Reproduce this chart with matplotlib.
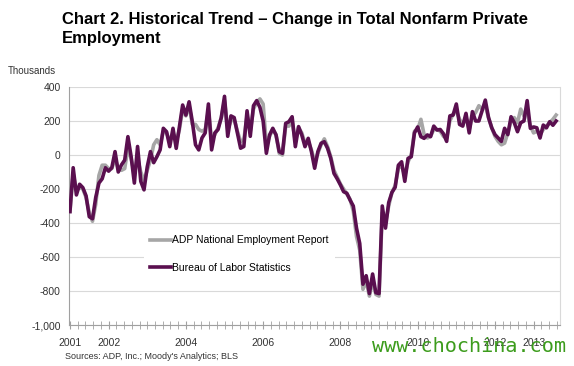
import numpy as np
import matplotlib
matplotlib.use('Agg')
import matplotlib.pyplot as plt
from matplotlib.ticker import FuncFormatter


# monthly change, thousands, Jan 2001 - Aug 2013
bls = [
    -333, -75, -235, -172, -192, -240, -363, -375, -250, -165, -140, -75,    # 2001
    -95, -75, 20, -100, -58, -30, 108, -10, -165, 50, -155, -205,            # 2002
    -70, 20, -45, -10, 30, 157, 137, 49, 157, 39, 167, 294,                  # 2003
    235, 313, 196, 60, 30, 100, 130, 300, 30, 130, 150, 220,                 # 2004
    345, 110, 230, 220, 130, 40, 50, 260, 110, 290, 320, 280,                # 2005
    200, 10, 118, 157, 118, 20, 10, 186, 196, 225, 49, 167,                  # 2006
    118, 49, 98, 20, -78, 20, 69, 78, 40, -20, -108, -140,                   # 2007
    -176, -216, -225, -265, -300, -430, -520, -760, -710, -815, -700, -810,  # 2008
    -815, -300, -430, -280, -220, -190, -60, -40, -155, -20, -10, 130,       # 2009
    165, 108, 98, 118, 108, 170, 147, 150, 125, 80, 230, 235,                # 2010
    300, 180, 170, 245, 130, 255, 200, 200, 260, 323, 220, 160,              # 2011
    120, 100, 80, 157, 120, 225, 190, 137, 190, 200, 320, 157,               # 2012
    165, 160, 100, 176, 160, 196, 175, 200,                                  # 2013
]
adp = [
    -330, -110, -210, -190, -200, -250, -340, -390, -290, -120, -60, -60,
    -80, -80, -20, -80, -90, -80, 40, -20, -110, -20, -100, -150,
    -90, -30, 60, 90, 60, 140, 130, 80, 130, 80, 150, 270,
    230, 290, 180, 180, 150, 140, 150, 260, 90, 120, 160, 220,
    320, 150, 200, 210, 140, 80, 90, 230, 140, 270, 310, 330,
    300, 60, 110, 150, 120, 10, 0, 170, 170, 200, 80, 160,
    130, 70, 80, 30, -40, 10, 60, 95, 50, -10, -90, -130,
    -170, -200, -230, -260, -330, -480, -560, -790, -740, -830, -740, -820,
    -830, -340, -400, -300, -220, -180, -80, -60, -120, -40, 0, 140,
    150, 210, 120, 100, 110, 150, 150, 140, 110, 100, 200, 240,
    260, 210, 180, 220, 150, 230, 250, 290, 270, 290, 220, 160,
    110, 80, 60, 70, 130, 200, 220, 190, 270, 230, 250, 170,
    130, 140, 120, 150, 170, 190, 210, 235,
]
year_labels = ['2001', '2002', '2004', '2006', '2008', '2010', '2012', '2013']
year_pos = [0, 12, 36, 60, 84, 108, 132, 144]

plt.rcParams['font.family'] = ['Liberation Sans', 'DejaVu Sans']

fig = plt.figure(figsize=(5.74, 3.66), dpi=100)
ax = fig.add_axes([0.1202, 0.112, 0.8554, 0.6503])

months = np.arange(len(bls))
ax.plot(months, adp, color='#a6a6a6', lw=2.6, solid_joinstyle='round',
        label='ADP National Employment Report', zorder=3)
ax.plot(months, bls, color='#5a0f4f', lw=2.6, solid_joinstyle='round',
        label='Bureau of Labor Statistics', zorder=4)

ax.set_xlim(-0.3, 152.2)
ax.set_ylim(-1000, 400)
ax.set_yticks(np.arange(-1000, 401, 200))
ax.yaxis.set_major_formatter(FuncFormatter(lambda v, p: f'{int(v):,}'))
ax.grid(axis='y', color='#d9d9d9', lw=0.8)
ax.set_axisbelow(True)

ax.set_xticks(year_pos)
ax.set_xticklabels(year_labels)
ax.set_xticks(np.arange(0, 153, 2.4), minor=True)
ax.tick_params(axis='x', which='both', direction='inout', length=6,
               color='#a0a0a0', labelsize=7.5, labelcolor='#333333', pad=6)
ax.tick_params(axis='y', length=0, labelsize=7.5, labelcolor='#333333', pad=6)

ax.spines['top'].set_visible(False)
ax.spines['left'].set_color('#a0a0a0')
ax.spines['bottom'].set_color('#a0a0a0')
ax.spines['right'].set_color('#d9d9d9')

leg = ax.legend(loc='upper left', bbox_to_anchor=(0.142, 0.425), fontsize=7.5,
                frameon=True, facecolor='white', edgecolor='none', framealpha=1,
                handlelength=2.0, handletextpad=0.1, labelspacing=1.7,
                borderpad=0.6, fancybox=False)

fig.text(0.108, 0.967, 'Chart 2. Historical Trend \u2013 Change in Total Nonfarm Private\nEmployment',
         fontsize=12, fontweight='bold', va='top', ha='left', linespacing=1.3)
fig.text(0.014, 0.806, 'Thousands', fontsize=7, va='center', ha='left', color='#333333')
fig.text(0.113, 0.027, "Sources: ADP, Inc.; Moody's Analytics; BLS", fontsize=6.5,
         va='center', ha='left', color='#333333')
fig.text(0.986, 0.052, 'www.chochina.com', fontsize=14.5, family='DejaVu Sans Mono',
         color='#3c9c1c', ha='right', va='center')

fig.savefig('out.png', dpi=100)
